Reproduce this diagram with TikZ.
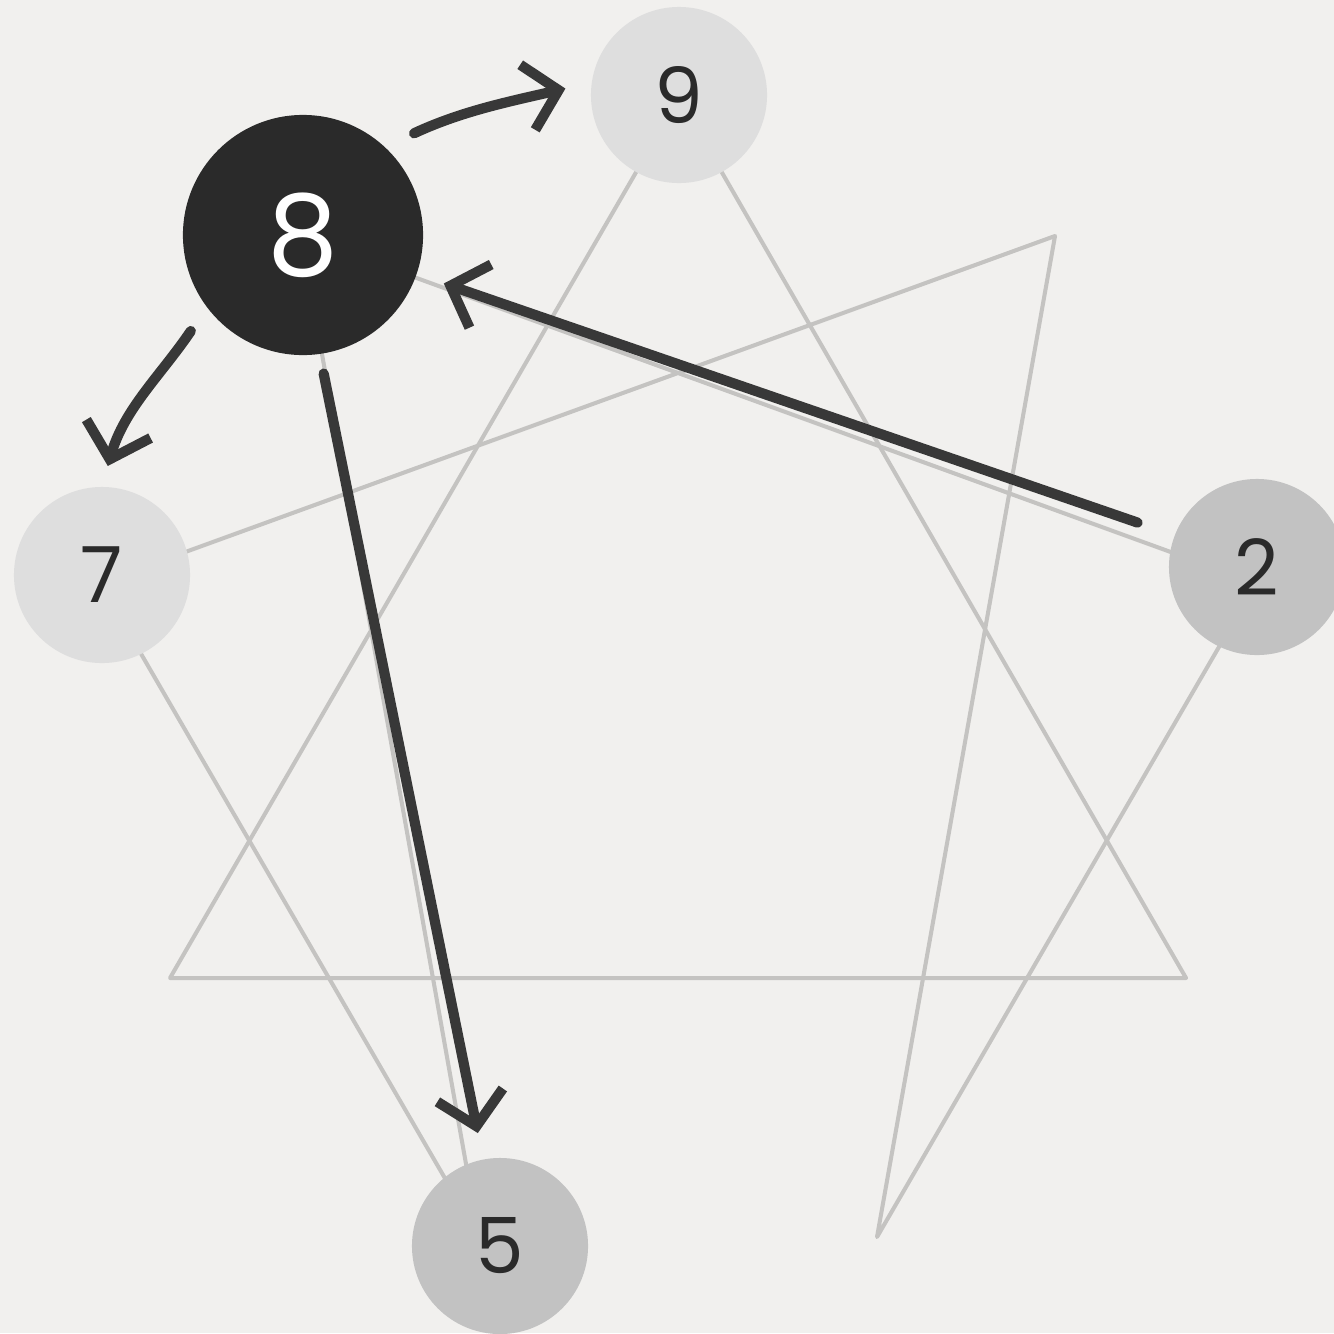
\documentclass[tikz,border=0pt]{standalone}
\usepackage{fontspec}
\setmainfont{Poppins}
\usetikzlibrary{arrows.meta}
\definecolor{paper}{HTML}{F1F0EE}
\definecolor{figgray}{HTML}{C4C3C1}
\definecolor{ink}{HTML}{383838}
\definecolor{palefill}{HTML}{DEDEDE}
\definecolor{midfill}{HTML}{C2C2C2}
\definecolor{darkfill}{HTML}{2A2A2A}

\begin{document}
\begin{tikzpicture}[x=0.01cm,y=-0.01cm,
  figline/.style={draw=figgray,line width=1.15pt,line cap=round,line join=round},
  typebox/.style={circle,inner sep=0pt,minimum size=1.76cm,text=darkfill,
    font=\fontsize{22}{22}\selectfont},
  movearrow/.style={draw=ink,line width=2.9pt,line cap=round,
    -{Straight Barb[length=9pt,width=19pt,line width=2.9pt]}}]
\fill[paper] (0,0) rectangle (1334,1333);
\useasboundingbox (0,0) rectangle (1334,1333);
% points of the figure on the circle
\coordinate (p9) at (679,98);
\coordinate (p1) at (1055,236);
\coordinate (p2) at (1256,583);
\coordinate (p3) at (1186,978);
\coordinate (p4) at (877,1237);
\coordinate (p5) at (479,1237);
\coordinate (p6) at (170,978);
\coordinate (p7) at (100,583);
\coordinate (p8) at (301,236);
\draw[figline] (p9) -- (p3) -- (p6) -- cycle; % triangle
\draw[figline] (p1) -- (p4) -- (p2) -- (p8) -- (p5) -- (p7) -- cycle; % hexad
% the types
\node[typebox,fill=palefill] (n9) at (679,95) {9};
\node[typebox,fill=palefill] (n7) at (102,575) {7};
\node[typebox,fill=midfill] (n5) at (500,1246) {5};
\node[typebox,fill=midfill] (n2) at (1257,567) {2};
\node[typebox,fill=darkfill,minimum size=2.4cm,text=white,
  font=\fontsize{32}{32}\selectfont] (n8) at (303,235) {8};
% arrows out of 8 and into 8
\draw[movearrow,shorten <=9pt,shorten >=7.5pt] (n8.47) to[out=25,in=193] (n9.172);
\draw[movearrow,shorten <=8pt,shorten >=6pt] (n8.217) to[out=236,in=74] (n7.90);
\draw[movearrow,shorten <=5.5pt,shorten >=7.5pt] (n8.278) -- (n5.101);
\draw[movearrow,shorten <=11pt,shorten >=8pt] (n2.159) -- (n8.341);
\end{tikzpicture}
\end{document}
